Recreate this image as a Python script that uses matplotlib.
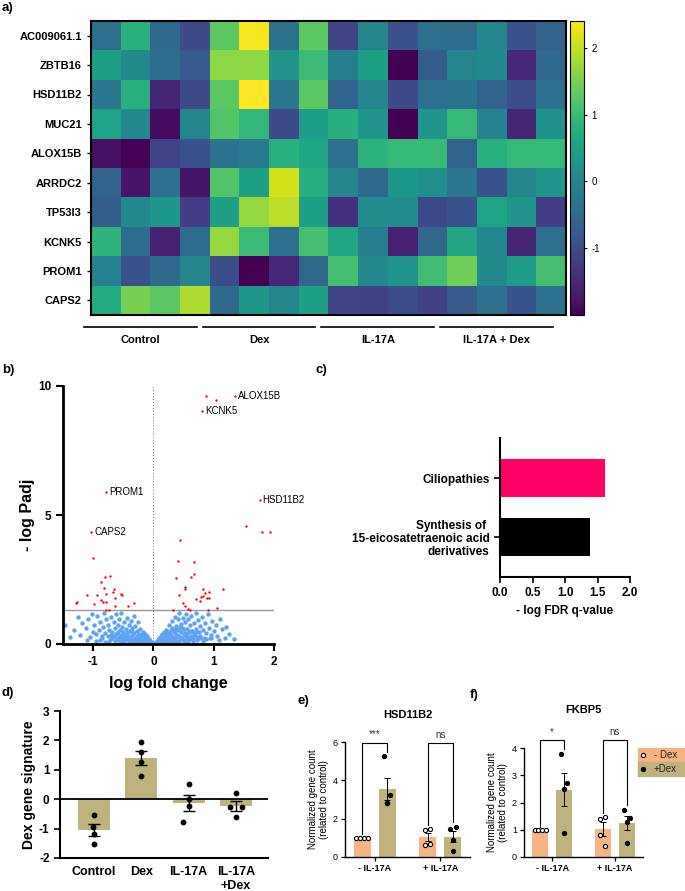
import matplotlib
matplotlib.use("Agg")
import matplotlib.pyplot as plt
import matplotlib.transforms as mtransforms
from matplotlib.patches import Rectangle
import numpy as np

plt.rcParams['font.family'] = ['Liberation Sans', 'DejaVu Sans']
plt.rcParams['axes.unicode_minus'] = False

W, H = 685, 891

# ---------------- data ----------------
genes = ["AC009061.1", "ZBTB16", "HSD11B2", "MUC21", "ALOX15B",
         "ARRDC2", "TP53I3", "KCNK5", "PROM1", "CAPS2"]
heat_groups = ["Control", "Dex", "IL-17A", "IL-17A + Dex"]
heat = np.array([
    [-0.40, 0.80, -0.50, -1.00, 1.30, 2.35, -0.35, 1.30, -1.10, 0.00, -0.90, -0.40, -0.45, 0.00, -0.85, -0.60],
    [0.50, 0.10, -0.45, -0.75, 1.65, 1.65, 0.30, 1.00, -0.10, 0.50, -2.00, -0.70, 0.00, 0.10, -1.50, -0.50],
    [-0.25, 0.80, -1.55, -1.00, 1.30, 2.40, -0.25, 1.30, -0.60, 0.00, -1.00, -0.40, -0.30, -0.60, -0.95, -0.35],
    [0.55, 0.05, -1.85, 0.00, 1.20, 0.90, -1.00, 0.45, 0.75, 0.30, -2.00, 0.30, 0.95, -0.05, -1.55, 0.25],
    [-1.80, -1.95, -1.10, -0.90, -0.35, -0.20, 0.80, 0.60, -0.35, 0.85, 0.95, 0.95, -0.60, 0.80, 0.95, 0.95],
    [-0.60, -1.75, -0.35, -1.75, 1.20, 0.50, 2.10, 0.75, 0.00, -0.50, 0.35, 0.20, -0.25, -0.90, 0.00, 0.30],
    [-0.70, 0.10, 0.35, -1.20, 0.50, 1.70, 1.95, 0.50, -1.40, 0.15, 0.15, -1.05, -0.90, 0.55, 0.30, -1.20],
    [0.85, -0.45, -1.60, -0.45, 1.70, 1.00, -0.40, 1.10, 0.60, -0.10, -1.60, -0.55, 0.60, 0.05, -1.55, -0.40],
    [-0.05, -0.90, -0.50, 0.00, -0.95, -2.00, -1.50, -0.55, 1.10, 0.10, 0.30, 1.05, 1.45, 0.10, 0.45, 1.10],
    [0.70, 1.50, 1.30, 1.85, -0.50, 0.35, 0.00, 0.50, -1.10, -1.15, -0.95, -1.15, -0.75, -0.40, -0.85, -0.35],
])

# volcano: significant genes
red_x = [1.36, 0.88, 1.04, 0.81, -0.79, 1.76, -1.03, 1.54, 1.80, 1.94, 0.44, -1.01,
         0.41, 0.68, 0.68, 0.62, 0.37, -0.81, -0.72, -0.87, -0.82, 0.52, 0.53, 1.16,
         0.83, 0.93, 0.85, -0.66, -0.67, -0.79, -0.53, -0.52, -1.11, -0.93, -0.87, -0.63,
         0.42, 0.70, 0.79, 0.89, 0.92, 0.77, 0.83, -1.26, -1.28, -0.84, -0.78, -0.99,
         -0.63, -0.43, -0.33, 0.49, 0.53, 1.06, 0.32, 0.57, 0.60, 0.90, -0.78, -0.74]
red_y = [9.61, 9.61, 9.46, 9.05, 5.90, 5.59, 4.36, 4.59, 4.36, 4.36, 4.04, 3.32,
         3.20, 3.17, 2.72, 2.61, 2.55, 2.61, 2.62, 2.40, 2.17, 2.19, 2.12, 2.12,
         2.14, 2.03, 1.96, 2.12, 2.01, 1.95, 1.95, 1.90, 1.90, 1.88, 1.72, 1.79,
         1.88, 1.75, 1.83, 1.77, 1.78, 1.68, 1.86, 1.64, 1.59, 1.63, 1.63, 1.54,
         1.46, 1.47, 1.57, 1.57, 1.46, 1.39, 1.33, 1.35, 1.33, 1.32, 1.33, 1.33]
labelled_genes = ["ALOX15B", "KCNK5", "PROM1", "HSD11B2", "CAPS2"]
labelled_x = [1.36, 0.81, -0.79, 1.76, -1.03]
labelled_y = [9.61, 9.05, 5.90, 5.59, 4.36]

# volcano: non-significant genes
blue_x = [-1.46, -1.39, -1.32, -1.25, -1.22, -1.18, -1.12, -1.08, -1.05, -1.02, -1.00,
          -0.98, -0.95, -0.93, -0.90, -0.88, -0.86, -0.84, -0.82, -0.80, -0.78, -0.76,
          -0.75, -0.73, -0.71, -0.70, -0.68, -0.66, -0.65, -0.63, -0.62, -0.61,
          -0.60, -0.59, -0.58, -0.57, -0.56, -0.55, -0.54, -0.53, -0.52, -0.51, -0.50,
          -0.49, -0.48, -0.47, -0.46, -0.45, -0.44, -0.43, -0.42, -0.41, -0.40, -0.39,
          -0.38, -0.37, -0.36, -0.35, -0.34, -0.33, -0.32, -0.31, -0.30,
          -0.29, -0.28, -0.27, -0.26, -0.25, -0.24, -0.23, -0.22, -0.21, -0.20, -0.19,
          -0.18, -0.17, -0.16, -0.15, -0.14, -0.13, -0.12, -0.11, -0.10, -0.09, -0.08,
          -0.07, -0.06, -0.05, -0.04, -0.03, -0.02, -0.01,
          -0.95, -0.88, -0.80, -0.74, -0.69, -0.64, -0.60, -0.56, -0.52, -0.48, -0.45,
          -0.42, -0.38, -0.35, -0.32, -0.29, -0.26, -0.23, -0.20, -0.17, -0.14, -0.11,
          -0.08, -0.06, -0.04, -0.70, -0.62, -0.55, -0.47, -0.40, -0.33, -0.27, -0.21,
          -0.16, -0.12, -1.10, -0.85, -0.58, -0.36, -0.24,
          0.01, 0.02, 0.03, 0.04, 0.05, 0.06, 0.07, 0.08, 0.09, 0.10, 0.11, 0.12, 0.13,
          0.14, 0.15, 0.16, 0.17, 0.18, 0.19, 0.20, 0.21, 0.22, 0.23, 0.24, 0.25, 0.26,
          0.27, 0.28, 0.29, 0.30, 0.31, 0.32, 0.33, 0.34, 0.35, 0.36, 0.37, 0.38, 0.39,
          0.40, 0.41, 0.42, 0.43, 0.44, 0.45, 0.46, 0.47, 0.48, 0.49, 0.50, 0.51, 0.52,
          0.53, 0.54, 0.55, 0.56, 0.57, 0.58, 0.59, 0.60, 0.62, 0.63, 0.64, 0.66, 0.67,
          0.68, 0.70, 0.71, 0.72, 0.74, 0.75, 0.77, 0.78, 0.80, 0.82, 0.84, 0.86, 0.88,
          0.90, 0.92, 0.95, 0.97, 1.00, 1.03, 1.06, 1.10, 1.14, 1.20, 1.25, 1.33, 1.18,
          0.04, 0.07, 0.10, 0.13, 0.16, 0.19, 0.22, 0.25, 0.28, 0.31, 0.34, 0.37, 0.40,
          0.43, 0.46, 0.49, 0.52, 0.55, 0.58, 0.61, 0.65, 0.69, 0.73, 0.78, 0.83, 0.88,
          0.94, 0.15, 0.20, 0.26, 0.32, 0.38, 0.44, 0.50, 0.56, 0.62, 0.70, 1.08, 0.96]
blue_y = [0.75, 0.26, 0.55, 1.05, 0.35, 0.82, 0.62, 0.95, 0.28, 1.18, 0.45,
          0.72, 0.38, 1.10, 0.55, 0.85, 0.22, 0.65, 1.22, 0.42, 0.95, 0.30,
          0.75, 0.55, 1.05, 0.20, 0.48, 0.85, 0.32, 0.62, 1.15, 0.18,
          0.42, 0.75, 0.25, 0.95, 0.55, 0.15, 0.35, 1.20, 0.65, 0.28, 0.48,
          0.85, 0.12, 0.38, 0.60, 0.22, 1.02, 0.45, 0.30, 0.72, 0.10, 0.52,
          0.20, 0.88, 0.35, 0.62, 0.15, 1.10, 0.42, 0.25, 0.70,
          0.12, 0.50, 0.32, 0.85, 0.08, 0.40, 0.22, 0.60, 0.15, 0.35, 0.05,
          0.48, 0.20, 0.28, 0.10, 0.40, 0.15, 0.22, 0.06, 0.30, 0.12, 0.18,
          0.05, 0.10, 0.03, 0.07, 0.02, 0.04, 0.01,
          0.10, 0.15, 0.08, 0.12, 0.25, 0.10, 0.20, 0.08, 0.18, 0.05, 0.25,
          0.14, 0.06, 0.20, 0.10, 0.04, 0.16, 0.07, 0.12, 0.03, 0.08, 0.10,
          0.04, 0.06, 0.02, 0.35, 0.40, 0.30, 0.28, 0.24, 0.18, 0.26, 0.22,
          0.10, 0.14, 0.15, 0.30, 0.45, 0.52, 0.30,
          0.01, 0.04, 0.02, 0.08, 0.04, 0.12, 0.06, 0.16, 0.09, 0.22, 0.05, 0.30, 0.14,
          0.38, 0.10, 0.25, 0.46, 0.18, 0.08, 0.33, 0.55, 0.12, 0.26, 0.42, 0.72, 0.20,
          0.50, 0.10, 0.35, 0.88, 0.62, 0.15, 0.28, 0.45, 1.05, 0.22, 0.70, 0.38, 0.12,
          0.55, 0.95, 0.30, 1.20, 0.18, 0.48, 0.78, 0.25, 0.62, 1.00, 0.35, 0.15, 0.85,
          0.42, 1.15, 0.28, 0.60, 0.20, 0.95, 0.45, 0.72, 0.30, 1.08, 0.52, 0.22, 0.82,
          0.40, 1.20, 0.60, 0.28, 0.92, 0.45, 0.68, 0.32, 1.05, 0.55, 0.25, 0.80, 0.42,
          1.15, 0.62, 0.35, 0.90, 0.50, 0.72, 0.30, 0.95, 0.58, 0.67, 0.40, 0.20, 0.25,
          0.03, 0.05, 0.12, 0.08, 0.16, 0.05, 0.20, 0.10, 0.25, 0.06, 0.18, 0.12, 0.30,
          0.08, 0.22, 0.15, 0.05, 0.28, 0.12, 0.20, 0.10, 0.35, 0.15, 0.22, 0.12, 0.18,
          0.25, 0.30, 0.42, 0.38, 0.55, 0.60, 0.65, 0.58, 0.40, 0.52, 0.48, 0.15, 0.22]
padj_cutoff = 1.3

# enrichment
pathways = ["Ciliopathies", "Synthesis of \n15-eicosatetraenoic acid\nderivatives"]
fdr_values = [1.62, 1.39]

# Dex signature per condition
sig_labels = ["Control", "Dex", "IL-17A", "IL-17A\n+Dex"]
sig_points = [[-0.53, -0.95, -1.19, -1.51],
              [1.93, 1.62, 1.26, 0.78],
              [0.53, 0.00, -0.22, -0.78],
              [0.22, -0.25, -0.26, -0.59]]

# qPCR-like panels, groups: - IL-17A, + IL-17A
il_labels = ["- IL-17A", "+ IL-17A"]
hsd_no_dex = [[1.0, 1.0, 1.0, 1.0], [1.42, 1.45, 0.62, 0.70]]
hsd_dex = [[5.27, 3.25, 2.84, 2.81], [1.48, 1.57, 0.89, 0.33]]
fkbp_no_dex = [[1.0, 1.0, 1.0, 1.0], [1.41, 1.46, 0.79, 0.39]]
fkbp_dex = [[3.79, 2.72, 2.49, 0.87], [1.71, 1.44, 1.29, 0.50]]

KHAKI = '#bfb27c'
ORANGE = '#f5b482'

fig = plt.figure(figsize=(W / 100, H / 100), dpi=100)


def add_ax(left, top, right, bottom):
    return fig.add_axes([left / W, 1 - bottom / H, (right - left) / W, (bottom - top) / H])


def sem(v):
    return np.std(v, ddof=1) / np.sqrt(len(v))


# ---------------- a) heatmap ----------------
ax = add_ax(91, 21, 566, 315)
im = ax.imshow(heat, cmap='viridis', vmin=-2, vmax=2.4, aspect='auto', interpolation='nearest')
ax.set_yticks(range(len(genes)))
ax.set_yticklabels(genes, fontsize=8, fontweight='bold')
ax.tick_params(axis='y', length=3, width=1)
ax.set_xticks([])
for s in ax.spines.values():
    s.set_linewidth(1.5)
cax = add_ax(570, 21, 584, 315)
cb = fig.colorbar(im, cax=cax, ticks=[-1, 0, 1, 2])
cb.ax.tick_params(labelsize=7, length=2, width=0.8)
cb.outline.set_linewidth(0.8)
trans = mtransforms.blended_transform_factory(ax.transData, ax.transAxes)
for i, g in enumerate(heat_groups):
    ax.plot([4 * i - 0.74, 4 * i + 3.06], [-0.041, -0.041], color='black', lw=1.2,
            transform=trans, clip_on=False)
    ax.text(4 * i + 1.16, -0.085, g, transform=trans, ha='center', va='center',
            fontsize=8, fontweight='bold')
ax.set_xlim(-0.5, heat.shape[1] - 0.5)
ax.set_ylim(heat.shape[0] - 0.5, -0.5)

# ---------------- b) volcano ----------------
ax = add_ax(63, 386, 274, 644)
ax.scatter(blue_x, blue_y, s=10, color='#5ea2f2', linewidths=0, zorder=2)
ax.scatter(red_x, red_y, s=3, color='red', linewidths=0, zorder=3)
for g, x, y in zip(labelled_genes, labelled_x, labelled_y):
    ax.text(x + 0.05, y, g, fontsize=7, va='center', ha='left')
ax.axvline(0, color='gray', ls=':', lw=0.8, zorder=1)
ax.axhline(padj_cutoff, color='#999999', lw=1, zorder=1)
ax.set_xlim(-1.5, 2)
ax.set_ylim(0, 10)
ax.set_xticks([-1, 0, 1, 2])
ax.set_yticks([0, 5, 10])
ax.spines[['top', 'right']].set_visible(False)
ax.spines[['left', 'bottom']].set_linewidth(2)
ax.tick_params(width=1.5, length=5, labelsize=8.5)
for t in ax.get_xticklabels() + ax.get_yticklabels():
    t.set_fontweight('bold')
ax.set_xlabel('log fold change', fontsize=11.5, fontweight='bold', labelpad=6)
ax.set_ylabel('- log Padj', fontsize=11.5, fontweight='bold', labelpad=2)

# ---------------- c) enrichment ----------------
ax = add_ax(500, 438, 630, 577)
ax.barh(range(len(pathways)), fdr_values, height=0.65, color=['#ff0066', 'black'])
ax.set_ylim(1.68, -0.68)
ax.set_xlim(0, 2)
ax.set_xticks([0, 0.5, 1.0, 1.5, 2.0])
ax.set_xticklabels(['0.0', '0.5', '1.0', '1.5', '2.0'])
ax.set_yticks(range(len(pathways)))
ax.set_yticklabels(pathways, fontsize=8.5, fontweight='bold', linespacing=1.1)
ax.spines[['top', 'right']].set_visible(False)
ax.spines[['left', 'bottom']].set_linewidth(1.5)
ax.tick_params(width=1.2, length=4, labelsize=8.5)
for t in ax.get_xticklabels():
    t.set_fontweight('bold')
ax.set_xlabel('- log FDR q-value', fontsize=8.5, fontweight='bold')

# ---------------- d) Dex signature ----------------
ax = add_ax(60, 711, 268, 858)
d_offsets = [[0.0, -0.03, 0.0, 0.0], [0.0, 0.0, 0.0, 0.0],
             [0.0, 0.0, 0.0, -0.12], [0.0, -0.12, 0.12, 0.0]]
for i, pts in enumerate(sig_points):
    m = np.mean(pts)
    ax.bar(i, m, width=0.68, color=KHAKI, zorder=1)
    ax.errorbar(i, m, yerr=sem(pts), color='black', capsize=4, lw=1, capthick=1, zorder=3)
    ax.scatter(np.array(d_offsets[i]) + i, pts, s=10, color='black', zorder=4)
ax.axhline(0, color='black', lw=1.3, zorder=2)
ax.set_xlim(-0.72, 3.68)
ax.set_ylim(-2, 3)
ax.set_yticks([-2, -1, 0, 1, 2, 3])
ax.set_xticks(range(len(sig_labels)))
ax.set_xticklabels(sig_labels, fontsize=9, fontweight='bold')
ax.tick_params(axis='x', length=0, pad=6)
ax.tick_params(axis='y', width=1.2, length=4, labelsize=8.5)
for t in ax.get_yticklabels():
    t.set_fontweight('bold')
ax.spines[['top', 'right']].set_visible(False)
ax.spines[['left', 'bottom']].set_linewidth(1.5)
ax.set_ylabel('Dex gene signature', fontsize=10, fontweight='bold', labelpad=2)


# ---------------- e) / f) ----------------
def gene_panel(box, title, no_dex, dex, ymax, yticks, brackets, title_pad):
    ax = add_ax(*box)
    off = 0.19
    line_offsets = [-0.09, -0.03, 0.03, 0.09]
    spread = [[-0.05, 0.03, -0.04, 0.03], [-0.05, 0.05, 0.0, 0.0]]
    for g in range(2):
        for k, (vals, col, face) in enumerate([(no_dex[g], ORANGE, 'white'), (dex[g], KHAKI, 'black')]):
            x = g + (2 * k - 1) * off
            m = np.mean(vals)
            ax.bar(x, m, width=0.26, color=col, zorder=1)
            ax.errorbar(x, m, yerr=sem(vals), color='black', capsize=2, lw=0.7, capthick=0.7, zorder=2)
            if np.ptp(vals) == 0:
                xs = x + np.array(line_offsets)
            else:
                xs = x + np.array(spread[k])
            ax.scatter(xs, vals, s=9, facecolors=face, edgecolors='black', linewidths=0.8, zorder=3)
    for (x0, x1, yl, yr, ytop, lab) in brackets:
        ax.plot([x0, x0, x1, x1], [yl, ytop, ytop, yr], color='black', lw=0.8, clip_on=False)
        ax.text((x0 + x1) / 2, ytop + ymax * 0.03, lab, ha='center', va='bottom', fontsize=7,
                color='#333333')
    ax.set_xlim(-0.45, 1.45)
    ax.set_ylim(0, ymax)
    ax.set_yticks(yticks)
    ax.set_xticks([0, 1])
    ax.set_xticklabels(il_labels, fontsize=6.5, fontweight='bold')
    ax.tick_params(width=0.9, length=3, labelsize=6.5, pad=2)
    ax.spines[['top', 'right']].set_visible(False)
    ax.spines[['left', 'bottom']].set_linewidth(1)
    ax.set_ylabel('Normalized gene count\n(related to control)', fontsize=7, labelpad=3,
                  linespacing=1.1)
    ax.set_title(title, fontsize=8, fontweight='bold', pad=title_pad)
    return ax


gene_panel((345, 742, 470, 857), 'HSD11B2', hsd_no_dex, hsd_dex, 6, [0, 2, 4, 6],
           [(-0.19, 0.19, 1.2, 5.5, 5.95, '***'), (0.81, 1.19, 1.67, 1.85, 5.95, 'ns')], 17)
gene_panel((524, 748, 643, 857), 'FKBP5', fkbp_no_dex, fkbp_dex, 4, [0, 1, 2, 3, 4],
           [(-0.19, 0.19, 1.1, 3.98, 4.28, '*'), (0.81, 1.19, 1.6, 1.9, 4.28, 'ns')], 25)

# legend of f)
for k, (lab, col, face) in enumerate([('- Dex', ORANGE, 'white'), ('+Dex', KHAKI, 'black')]):
    top = 748 + 14 * k
    fig.patches.append(Rectangle((638 / W, 1 - (top + 14) / H), 60 / W, 14 / H,
                                 transform=fig.transFigure, color=col, zorder=0))
    fig.lines.append(plt.Line2D([643 / W], [1 - (top + 7) / H], marker='o', markersize=3,
                                markerfacecolor=face, markeredgecolor='black', lw=0,
                                markeredgewidth=0.8, transform=fig.transFigure))
    fig.text(654 / W, 1 - (top + 7) / H, lab, fontsize=7, va='center', color='#222222')

# panel letters
for lab, x, y in [('a)', 2, 2), ('b)', 2, 364), ('c)', 315, 364), ('d)', 2, 687),
                  ('e)', 298, 695), ('f)', 470, 689)]:
    fig.text(x / W, 1 - y / H, lab, fontsize=9.5, fontweight='bold', va='top', ha='left')

fig.savefig('out.png', dpi=100)
